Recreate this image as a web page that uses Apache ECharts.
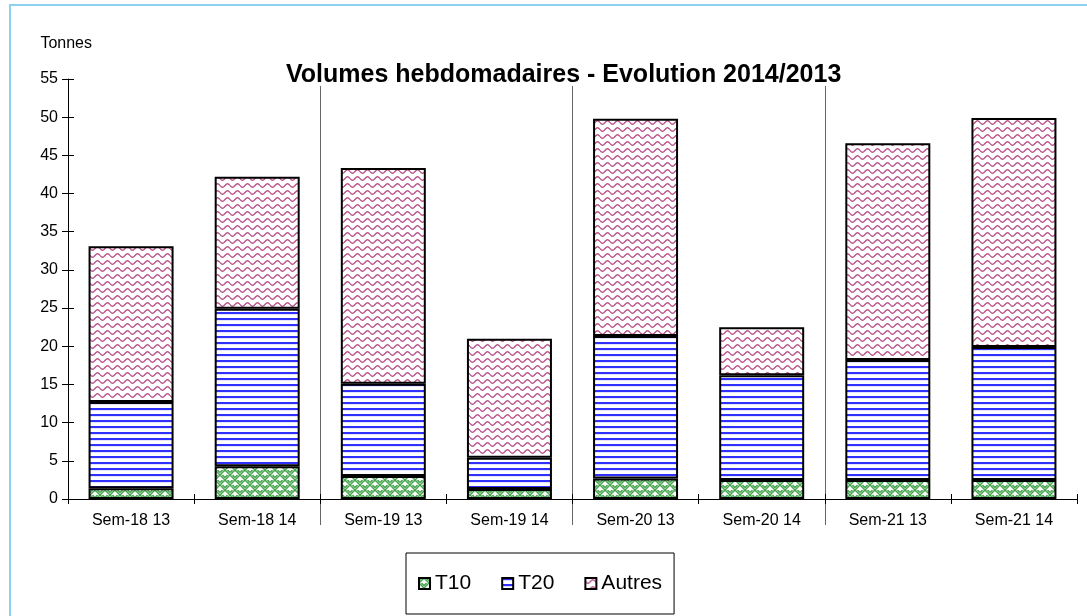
<!DOCTYPE html>
<html>
<head>
<meta charset="utf-8">
<script src="https://cdn.jsdelivr.net/npm/echarts@6/dist/echarts.min.js"></script>
<style>
  html, body { margin: 0; padding: 0; background: #fff; }
  #frame { position: absolute; left: 9px; top: 4px; width: 1200px; height: 700px;
           border-left: 2px solid #8dd0f0; border-top: 2px solid #8dd0f0; }
  #chart { position: absolute; left: 0; top: 0; width: 1087px; height: 616px; }
</style>
</head>
<body>
<div id="frame"></div>
<div id="chart"></div>
<script>
var categories = ['Sem-18 13', 'Sem-18 14', 'Sem-19 13', 'Sem-19 14', 'Sem-20 13', 'Sem-20 14', 'Sem-21 13', 'Sem-21 14'];
var t10 = [1.4, 4.3, 3.0, 1.3, 2.7, 2.5, 2.5, 2.5];
var t20 = [11.3, 20.6, 12.1, 4.1, 18.65, 13.7, 15.7, 17.4];
var autres = [20.4, 17.3, 28.25, 15.6, 28.45, 6.3, 28.4, 30.0];
var yTicks = { min: 0, max: 55, step: 5 };

// hatch patterns drawn on small canvases
function makeTile(w, h, draw) {
  var c = document.createElement('canvas');
  c.width = w; c.height = h;
  var ctx = c.getContext('2d');
  ctx.fillStyle = '#fff';
  ctx.fillRect(0, 0, w, h);
  draw(ctx);
  return { image: c, repeat: 'repeat' };
}

var greenWeave = makeTile(10, 10, function (ctx) {
  ctx.strokeStyle = '#46a54e';
  ctx.lineWidth = 1.5;
  ctx.beginPath();
  // alternating quadrants of "/" and "\" strokes -> basket weave look
  ctx.moveTo(0, 2.5); ctx.lineTo(2.5, 0);
  ctx.moveTo(0, 5); ctx.lineTo(5, 0);
  ctx.moveTo(5, 7.5); ctx.lineTo(7.5, 5);
  ctx.moveTo(5, 10); ctx.lineTo(10, 5);
  ctx.moveTo(5, 0); ctx.lineTo(10, 5);
  ctx.moveTo(7.5, 0); ctx.lineTo(10, 2.5);
  ctx.moveTo(0, 5); ctx.lineTo(5, 10);
  ctx.moveTo(2.5, 5); ctx.lineTo(5, 7.5);
  ctx.stroke();
});

var blueLines = makeTile(6, 6, function (ctx) {
  ctx.fillStyle = '#3030ff';
  ctx.fillRect(0, 0, 6, 2);
  ctx.fillStyle = '#e4e4ff';
  ctx.fillRect(0, 2, 6, 1);
});

var pinkWaves = makeTile(10, 7, function (ctx) {
  ctx.strokeStyle = '#b8508a';
  ctx.lineWidth = 1.4;
  ctx.beginPath();
  for (var x = 0; x <= 10; x += 0.5) {
    var y = 3.5 + 1.7 * Math.sin(x / 10 * Math.PI * 2);
    if (x === 0) ctx.moveTo(x, y); else ctx.lineTo(x, y);
  }
  ctx.stroke();
});

// grey separator before every "13" week, except the first one
function weekStart(i) { return i > 0 && i < categories.length && i % 2 === 0; }

var font = 'Liberation Sans, Arial, sans-serif';
var chart = echarts.init(document.getElementById('chart'));

function barSeries(name, data, fill) {
  return {
    name: name,
    type: 'bar',
    stack: 'vol',
    data: data,
    barWidth: 85,
    xAxisIndex: 0,
    yAxisIndex: 0,
    itemStyle: { color: fill, borderColor: '#000', borderWidth: 2 },
    emphasis: { disabled: true }
  };
}

chart.setOption({
  animation: false,
  backgroundColor: 'transparent',
  textStyle: { fontFamily: font },
  title: {
    text: 'Volumes hebdomadaires - Evolution 2014/2013',
    left: 281, top: 58,
    textStyle: { fontSize: 25, fontWeight: 'bold', color: '#000', fontFamily: font }
  },
  legend: {
    left: 406, top: 553,
    padding: [20, 12, 20, 12],
    borderColor: '#000', borderWidth: 1,
    icon: 'rect',
    itemWidth: 11, itemHeight: 11, itemGap: 30,
    textStyle: { fontSize: 21, color: '#000', fontFamily: font },
    data: ['T10', 'T20', 'Autres']
  },
  grid: [
    { left: 68, right: 10, top: 79, bottom: 117, containLabel: false },
    // taller twin grid only used for the grey week separators
    { left: 68, right: 10, top: 86, bottom: 91, containLabel: false }
  ],
  xAxis: [
    {
      type: 'category', data: categories,
      axisLine: { lineStyle: { color: '#000', width: 1 } },
      axisTick: { show: true, length: 5, lineStyle: { color: '#000' } },
      axisLabel: { color: '#000', fontSize: 16, margin: 14, fontFamily: font },
      splitLine: { show: false }
    },
    {
      type: 'category', data: categories, position: 'bottom',
      axisLine: { show: false },
      axisTick: { show: true, inside: true, length: 5, lineStyle: { color: '#000' } },
      axisLabel: { show: false },
      splitLine: { show: false }
    },
    {
      type: 'category', data: categories, gridIndex: 1,
      axisLine: { show: false },
      axisTick: { show: false },
      axisLabel: { show: false },
      splitLine: { show: true, interval: weekStart, showMaxLine: false, lineStyle: { color: '#666', width: 1 } }
    }
  ],
  yAxis: [
    {
      type: 'value', min: yTicks.min, max: yTicks.max, interval: yTicks.step,
      name: 'Tonnes', nameLocation: 'end', nameGap: 27,
      nameTextStyle: { color: '#000', fontSize: 16, fontFamily: font, align: 'right', padding: [0, -24, 0, 0] },
      axisLine: { show: true, lineStyle: { color: '#000' } },
      axisTick: { show: true, length: 6, lineStyle: { color: '#000' } },
      axisLabel: { color: '#000', fontSize: 16, margin: 10, fontFamily: font },
      splitLine: { show: false }
    },
    {
      type: 'value', min: yTicks.min, max: yTicks.max, interval: yTicks.step, position: 'left',
      axisLine: { show: false },
      axisTick: { show: true, inside: true, length: 6, lineStyle: { color: '#000' } },
      axisLabel: { show: false },
      splitLine: { show: false }
    },
    {
      type: 'value', gridIndex: 1, min: 0, max: 1, show: false
    }
  ],
  series: [
    barSeries('T10', t10, greenWeave),
    barSeries('T20', t20, blueLines),
    barSeries('Autres', autres, pinkWaves)
  ]
});
</script>
</body>
</html>
